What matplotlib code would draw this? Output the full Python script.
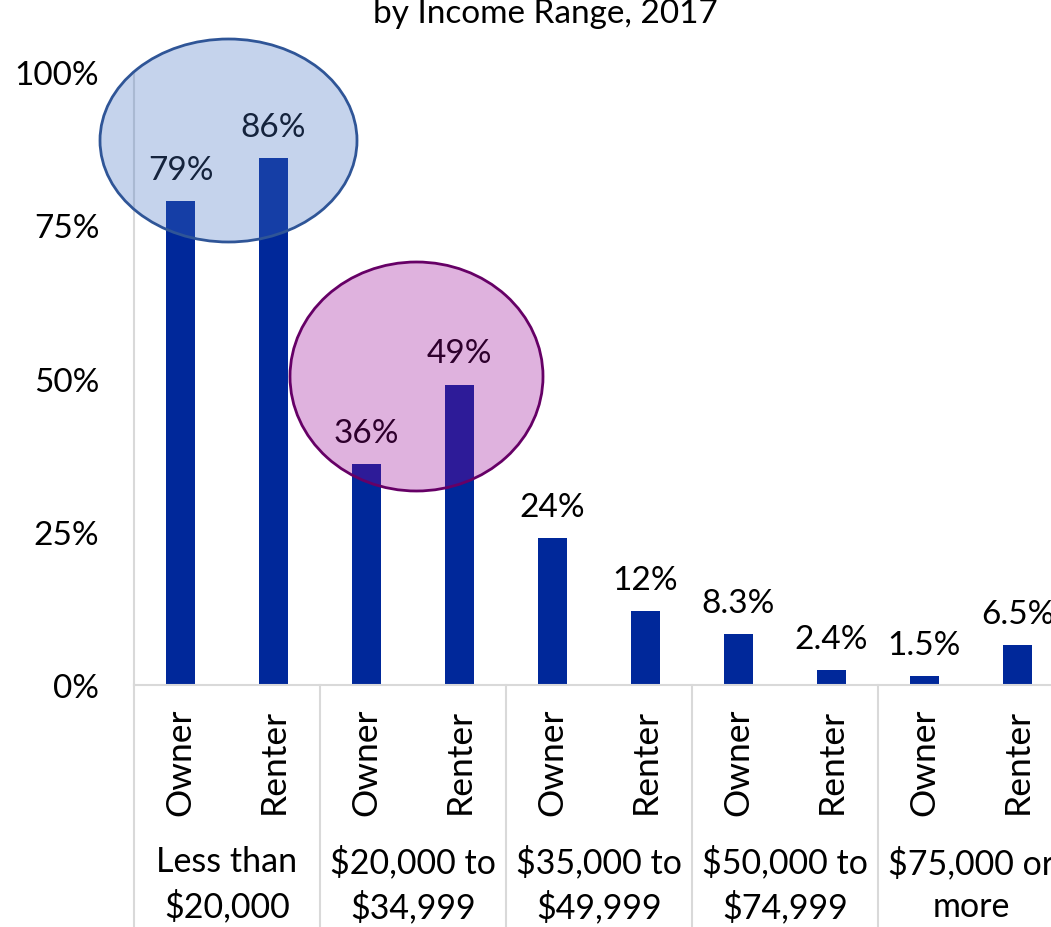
import matplotlib
matplotlib.use("Agg")
import matplotlib.pyplot as plt
from matplotlib.patches import Ellipse
import matplotlib.transforms as mtransforms

plt.rcParams['font.family'] = ['Lato', 'DejaVu Sans']

groups = ["Less than\n$20,000", "$20,000 to\n$34,999", "$35,000 to\n$49,999",
          "$50,000 to\n$74,999", "$75,000 or\nmore"]
tenure = ["Owner", "Renter"]
values = [79, 86, 36, 49, 24, 12, 8.3, 2.4, 1.5, 6.5]
value_labels = ["79%", "86%", "36%", "49%", "24%", "12%", "8.3%", "2.4%", "1.5%", "6.5%"]
yticks = [0, 25, 50, 75, 100]
ytick_labels = ["0%", "25%", "50%", "75%", "100%"]
title = "by Income Range, 2017"

W, H = 1051, 928
fig = plt.figure(figsize=(W / 100, H / 100), dpi=100)
ax_left, ax_right, ax_top, ax_bottom = 134, 1064, 73, 686
ax = fig.add_axes([ax_left / W, (H - ax_bottom) / H, (ax_right - ax_left) / W, (ax_bottom - ax_top) / H])

bar_color = "#00289A"
x = list(range(len(values)))
ax.bar(x, values, width=0.32, color=bar_color, zorder=2)
ax.set_xlim(-0.5, len(values) - 0.5)
ax.set_ylim(0, 100)

for xi, v, lab in zip(x, values, value_labels):
    ax.annotate(lab, (xi, v), xytext=(0, 16), textcoords="offset points",
                ha="center", va="baseline", fontsize=24, color="black", zorder=3)

ax.set_yticks(yticks)
ax.set_yticklabels(ytick_labels, fontsize=24)
ax.tick_params(axis="y", length=0, pad=25)
ax.set_xticks([])

for s in ["top", "right"]:
    ax.spines[s].set_visible(False)
ax.spines["left"].set_color("#D9D9D9")
ax.spines["bottom"].set_color("#D9D9D9")
ax.spines["left"].set_linewidth(1.5)
ax.spines["bottom"].set_linewidth(1.5)

ph = ax_bottom - ax_top
trans = mtransforms.blended_transform_factory(ax.transData, ax.transAxes)

# category separators
for g in range(len(groups) + 1):
    ax.plot([g * 2 - 0.5, g * 2 - 0.5], [0, -0.5], transform=trans, color="#D9D9D9",
            lw=1.5, clip_on=False, zorder=1)

# tenure labels
for xi in x:
    ax.text(xi, -23 / ph, tenure[xi % 2], transform=trans, rotation=90,
            ha="center", va="top", fontsize=25.5, color="black")

# group labels
for g, name in enumerate(groups):
    ax.text(g * 2 + 0.5, -(885 - ax_bottom) / ph, name, transform=trans,
            ha="center", va="center", fontsize=24.5, color="black", linespacing=1.42)

# title (second line visible)
fig.text(545 / W, (H - 23) / H, title, ha="center", va="baseline", fontsize=24, color="black")

# highlight ellipses (in pixel coordinates of the figure)
def px_ellipse(cx, cy, w, h, fc, ec, alpha):
    e = Ellipse((cx / W, (H - cy) / H), w / W, h / H, transform=fig.transFigure,
                facecolor=fc, edgecolor="none", alpha=alpha, zorder=10)
    fig.add_artist(e)
    e2 = Ellipse((cx / W, (H - cy) / H), w / W, h / H, transform=fig.transFigure,
                 facecolor="none", edgecolor=ec, lw=2, zorder=11)
    fig.add_artist(e2)

px_ellipse(228.5, 141.5, 257, 203, "#4472C4", "#2F5597", 0.31)
px_ellipse(416.5, 377.5, 253, 229, "#980094", "#660066", 0.30)

fig.savefig("out.png", dpi=100)
